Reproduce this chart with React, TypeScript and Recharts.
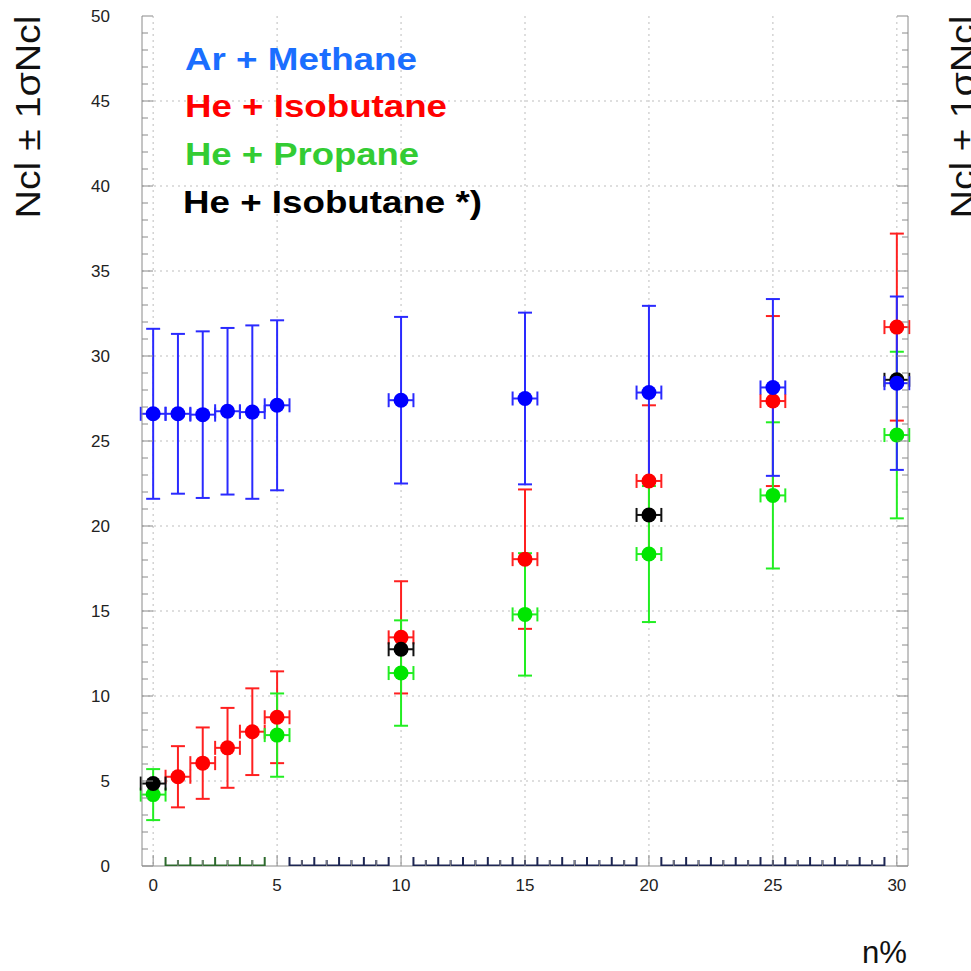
import React from 'react';
import { ScatterChart, Scatter, XAxis, YAxis, CartesianGrid, ErrorBar } from 'recharts';

// ---- data ----
const arMethaneN = [0, 1, 2, 3, 4, 5, 10, 15, 20, 25, 30];
const arMethaneNcl = [26.6, 26.6, 26.55, 26.75, 26.7, 27.1, 27.4, 27.5, 27.85, 28.15, 28.4];
const arMethaneSigma = [5.0, 4.7, 4.9, 4.9, 5.1, 5.0, 4.9, 5.05, 5.1, 5.2, 5.1];

const heIsobutaneN = [1, 2, 3, 4, 5, 10, 15, 20, 25, 30];
const heIsobutaneNcl = [5.25, 6.05, 6.95, 7.9, 8.75, 13.45, 18.05, 22.65, 27.35, 31.7];
const heIsobutaneSigma = [1.8, 2.1, 2.35, 2.55, 2.7, 3.3, 4.1, 4.45, 5.0, 5.5];

const hePropaneN = [0, 5, 10, 15, 20, 25, 30];
const hePropaneNcl = [4.2, 7.7, 11.35, 14.8, 18.35, 21.8, 25.35];
const hePropaneSigma = [1.5, 2.45, 3.1, 3.6, 4.0, 4.3, 4.9];

const heIsobutaneStarN = [0, 10, 20, 30];
const heIsobutaneStarNcl = [4.85, 12.75, 20.65, 28.6];

const nHalfWidth = 0.5;

// zero-level bin markers along the bottom
const propaneZeroBins = [0.5, 1, 1.5, 2, 2.5, 3, 3.5, 4, 4.5];
const otherZeroBinsA = [5.5, 6, 6.5, 7, 7.5, 8, 8.5, 9, 9.5];
const otherZeroBinsB = [10.5, 11, 11.5, 12, 12.5, 13, 13.5, 14, 14.5, 15, 15.5, 16, 16.5, 17, 17.5, 18, 18.5, 19, 19.5];
const otherZeroBinsC = [20.5, 21, 21.5, 22, 22.5, 23, 23.5, 24, 24.5, 25, 25.5, 26, 26.5, 27, 27.5, 28, 28.5, 29, 29.5];

const xTicks = [0, 1, 2, 3, 4, 5, 6, 7, 8, 9, 10, 11, 12, 13, 14, 15, 16, 17, 18, 19, 20, 21, 22, 23, 24, 25, 26, 27, 28, 29, 30];
const yTicks = [0, 1, 2, 3, 4, 5, 6, 7, 8, 9, 10, 11, 12, 13, 14, 15, 16, 17, 18, 19, 20, 21, 22, 23, 24, 25, 26, 27, 28, 29, 30, 31, 32, 33, 34, 35, 36, 37, 38, 39, 40, 41, 42, 43, 44, 45, 46, 47, 48, 49, 50];
const xGrid = [0, 5, 10, 15, 20, 25, 30];
const yGrid = [5, 10, 15, 20, 25, 30, 35, 40, 45];

const legendLabels = ['Ar + Methane', 'He + Isobutane', 'He + Propane', 'He + Isobutane *)'];
const yTitle = 'Ncl \u00b1 1\u03c3Ncl';
const xTitle = 'n%';

const build = (xs: number[], ys: number[], errs?: number[]) =>
  xs.map((x, i) => ({ x, y: ys[i], ex: nHalfWidth, ey: errs ? errs[i] : 0 }));

const arMethane = build(arMethaneN, arMethaneNcl, arMethaneSigma);
const heIsobutane = build(heIsobutaneN, heIsobutaneNcl, heIsobutaneSigma);
const hePropane = build(hePropaneN, hePropaneNcl, hePropaneSigma);
const heIsobutaneStar = build(heIsobutaneStarN, heIsobutaneStarNcl);
const zeros = (xs: number[]) => xs.map((x) => ({ x, y: 0 }));

const FONT = '"Liberation Sans", Arial, Helvetica, sans-serif';
const FRAME = '#8a8a8a';

const marker = (fill: string) => (p: any) => <circle cx={p.cx} cy={p.cy} r={7.5} fill={fill} />;

const binTick = (stroke: string) => (p: any) => {
  const half = Math.abs((p.payload?.x ?? 0) % 1) > 0.01;
  return <line x1={p.cx} x2={p.cx} y1={p.cy} y2={p.cy - (half ? 9 : 6)} stroke={stroke} strokeWidth={2} />;
};

const LeftTick = (p: any) => {
  const v = p.payload.value;
  const major = v % 5 === 0;
  return (
    <g>
      <line x1={p.x} x2={p.x + (major ? 11 : 6)} y1={p.y} y2={p.y} stroke={FRAME} strokeWidth={1} />
      {major && (
        <text x={p.x - 32} y={p.y + 6} textAnchor="end" fontSize={17} fontFamily={FONT} fill="#222">
          {v}
        </text>
      )}
    </g>
  );
};
const RightTick = (p: any) => {
  const major = p.payload.value % 5 === 0;
  return <line x1={p.x} x2={p.x - (major ? 11 : 6)} y1={p.y} y2={p.y} stroke={FRAME} strokeWidth={1} />;
};
const BottomTick = (p: any) => {
  const v = p.payload.value;
  const major = v % 5 === 0;
  return (
    <g>
      <line x1={p.x} x2={p.x} y1={p.y} y2={p.y - (major ? 11 : 6)} stroke={FRAME} strokeWidth={1} />
      {major && (
        <text x={p.x} y={p.y + 25} textAnchor="middle" fontSize={17} fontFamily={FONT} fill="#222">
          {v}
        </text>
      )}
    </g>
  );
};
const TopTick = (p: any) => {
  const major = p.payload.value % 5 === 0;
  return <line x1={p.x} x2={p.x} y1={p.y} y2={p.y + (major ? 11 : 6)} stroke={FRAME} strokeWidth={1} />;
};

export default function App() {
  return (
    <div style={{ position: 'absolute', left: 0, top: 0, width: 971, height: 971, background: '#fff' }}>
      <ScatterChart width={971} height={971} margin={{ top: 16, right: 3, bottom: 65, left: 82 }}>
        <CartesianGrid
          stroke="#bdbdbd"
          strokeDasharray="2 4"
          horizontalValues={yGrid}
          verticalValues={xGrid}
        />
        <XAxis
          type="number"
          dataKey="x"
          domain={[-0.45, 30.45]}
          allowDataOverflow
          ticks={xTicks}
          interval={0}
          height={40}
          tickSize={0}
          tickMargin={0}
          tickLine={false}
          axisLine={{ stroke: FRAME }}
          tick={<BottomTick />}
        />
        <XAxis
          xAxisId="top"
          orientation="top"
          type="number"
          dataKey="x"
          domain={[-0.45, 30.45]}
          allowDataOverflow
          ticks={xTicks}
          interval={0}
          height={0}
          tickSize={0}
          tickMargin={0}
          tickLine={false}
          axisLine={{ stroke: FRAME }}
          tick={<TopTick />}
        />
        <YAxis
          type="number"
          dataKey="y"
          domain={[0, 50]}
          allowDataOverflow
          ticks={yTicks}
          interval={0}
          width={60}
          tickSize={0}
          tickMargin={0}
          tickLine={false}
          axisLine={{ stroke: FRAME }}
          tick={<LeftTick />}
        />
        <YAxis
          yAxisId="right"
          orientation="right"
          type="number"
          dataKey="y"
          domain={[0, 50]}
          allowDataOverflow
          ticks={yTicks}
          interval={0}
          width={60}
          tickSize={0}
          tickMargin={0}
          tickLine={false}
          axisLine={{ stroke: FRAME }}
          tick={<RightTick />}
        />

        <Scatter data={zeros(propaneZeroBins)} line={{ stroke: '#2d6a2d', strokeWidth: 3 }} shape={binTick('#2d6a2d')} isAnimationActive={false} />
        <Scatter data={zeros(otherZeroBinsA)} line={{ stroke: '#1c2552', strokeWidth: 3 }} shape={binTick('#1c2552')} isAnimationActive={false} />
        <Scatter data={zeros(otherZeroBinsB)} line={{ stroke: '#1c2552', strokeWidth: 3 }} shape={binTick('#1c2552')} isAnimationActive={false} />
        <Scatter data={zeros(otherZeroBinsC)} line={{ stroke: '#1c2552', strokeWidth: 3 }} shape={binTick('#1c2552')} isAnimationActive={false} />

        <Scatter data={heIsobutane} shape={marker('#ff0000')} isAnimationActive={false}>
          <ErrorBar dataKey="ey" direction="y" width={7} stroke="#ff2020" strokeWidth={2} />
          <ErrorBar dataKey="ex" direction="x" width={7} stroke="#ff2020" strokeWidth={2} />
        </Scatter>
        <Scatter data={hePropane} shape={marker('#00e600')} isAnimationActive={false}>
          <ErrorBar dataKey="ey" direction="y" width={7} stroke="#22ee22" strokeWidth={2} />
          <ErrorBar dataKey="ex" direction="x" width={7} stroke="#22ee22" strokeWidth={2} />
        </Scatter>
        <Scatter data={heIsobutaneStar} shape={marker('#000000')} isAnimationActive={false}>
          <ErrorBar dataKey="ex" direction="x" width={7} stroke="#111" strokeWidth={2} />
        </Scatter>
        <Scatter data={arMethane} shape={marker('#0000ff')} isAnimationActive={false}>
          <ErrorBar dataKey="ey" direction="y" width={7} stroke="#2a2aff" strokeWidth={2} />
          <ErrorBar dataKey="ex" direction="x" width={7} stroke="#2a2aff" strokeWidth={2} />
        </Scatter>
      </ScatterChart>

      <svg width={971} height={971} style={{ position: 'absolute', left: 0, top: 0, pointerEvents: 'none' }}>
        <g fontFamily={FONT} fontWeight="bold" fontSize={32}>
          <text x={185} y={70} fill="#1a6eff" textLength={232} lengthAdjust="spacingAndGlyphs">{legendLabels[0]}</text>
          <text x={185} y={117} fill="#ff0000" textLength={262} lengthAdjust="spacingAndGlyphs">{legendLabels[1]}</text>
          <text x={185} y={165} fill="#33cc33" textLength={234} lengthAdjust="spacingAndGlyphs">{legendLabels[2]}</text>
          <text x={183} y={213} fill="#000000" textLength={299} lengthAdjust="spacingAndGlyphs">{legendLabels[3]}</text>
        </g>
        <text
          transform="translate(40,117) rotate(-90)"
          textAnchor="middle"
          fontFamily={FONT}
          fontSize={35}
          fill="#111"
          textLength={203}
          lengthAdjust="spacingAndGlyphs"
        >
          {yTitle}
        </text>
        <text
          transform="translate(975,117) rotate(-90)"
          textAnchor="middle"
          fontFamily={FONT}
          fontSize={35}
          fill="#111"
          textLength={203}
          lengthAdjust="spacingAndGlyphs"
        >
          {yTitle}
        </text>
        <text x={862} y={963} fontFamily={FONT} fontSize={31} fill="#111" textLength={45} lengthAdjust="spacingAndGlyphs">
          {xTitle}
        </text>
      </svg>
    </div>
  );
}
